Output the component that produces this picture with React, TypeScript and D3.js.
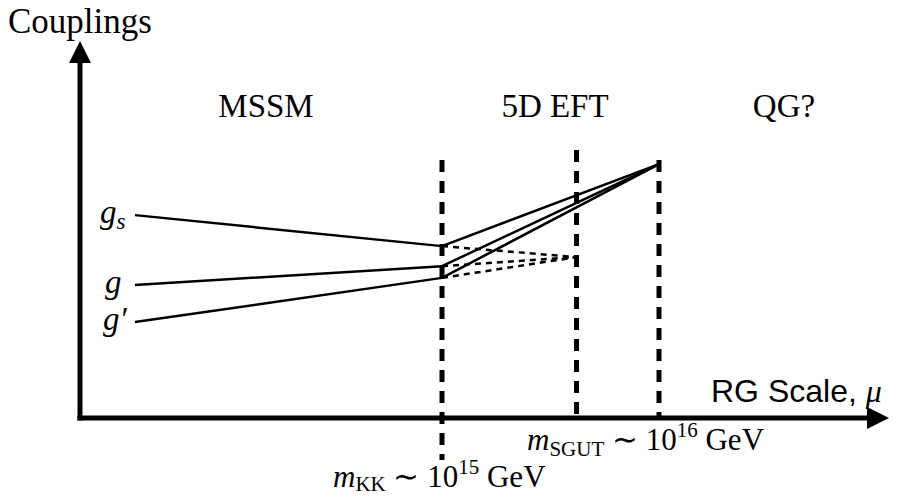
import React from 'react';
import * as d3 from 'd3';

// schematic running: x in log10(mu / GeV), y in arbitrary coupling units
const couplingNames = ['gs', 'g', 'gp'];
const muStart = 13.585;
const muKK = 15;
const muMid = 15.62;
const muGUT = 16;
const lowValues = [5.42, 3.57, 2.59];
const kkValues = [4.6, 4.07, 3.76];
const gutValue = 6.77;
const midValue = 4.31;

const W = 898;
const H = 497;

export default function App() {
  const x = d3.scaleLinear().domain([muKK, muGUT]).range([442, 659]);
  const y = d3.scaleLinear().domain([0, 10]).range([420, 42]);
  const line = d3.line<[number, number]>().x(d => x(d[0])).y(d => y(d[1]));

  const serif = '"Liberation Serif", "Times New Roman", serif';
  const sans = '"Liberation Sans", Arial, sans-serif';

  const axisY = 418;
  const axisX = 80;

  return (
    <svg width={W} height={H} style={{ position: 'absolute', left: 0, top: 0, background: '#fff' }}>
      {/* axes */}
      <line x1={axisX} x2={axisX} y1={axisY + 2.5} y2={60} stroke="#000" strokeWidth={5} />
      <path d={`M${axisX - 11},${63} L${axisX},${41} L${axisX + 11},${63} Z`} fill="#000" />
      <line x1={axisX - 2.5} x2={870} y1={axisY} y2={axisY} stroke="#000" strokeWidth={5} />
      <path d={`M${867},${axisY - 11} L${889},${axisY} L${867},${axisY + 11} Z`} fill="#000" />

      {/* threshold dashed lines */}
      <line x1={x(muKK)} x2={x(muKK)} y1={160} y2={460} stroke="#000" strokeWidth={5} strokeDasharray="12 9" />
      <line x1={x(muMid)} x2={x(muMid)} y1={150} y2={axisY} stroke="#000" strokeWidth={5} strokeDasharray="12 9" />
      <line x1={x(muGUT)} x2={x(muGUT)} y1={160} y2={axisY} stroke="#000" strokeWidth={5} strokeDasharray="12 9" />

      {/* running couplings */}
      {couplingNames.map((n, i) => (
        <g key={n}>
          <path
            d={line([[muStart, lowValues[i]], [muKK, kkValues[i]], [muGUT, gutValue]]) || ''}
            fill="none" stroke="#000" strokeWidth={2.5} strokeLinejoin="round"
          />
          <path
            d={line([[muKK, kkValues[i]], [muMid, midValue]]) || ''}
            fill="none" stroke="#000" strokeWidth={2.5} strokeDasharray="6 5"
          />
        </g>
      ))}

      {/* coupling labels */}
      <text x={100} y={y(lowValues[0]) + 8} fontFamily={serif} fontStyle="italic" fontSize={33}>
        g<tspan fontSize={23} dy={6}>s</tspan>
      </text>
      <text x={105} y={y(lowValues[1]) + 8} fontFamily={serif} fontStyle="italic" fontSize={33}>g</text>
      <text x={103} y={y(lowValues[2]) + 8} fontFamily={serif} fontStyle="italic" fontSize={33}>g′</text>

      {/* region labels */}
      <text x={8} y={33} fontFamily={serif} fontSize={35}>Couplings</text>
      <text x={266} y={117} textAnchor="middle" fontFamily={serif} fontSize={33}>MSSM</text>
      <text x={555} y={117} textAnchor="middle" fontFamily={serif} fontSize={33}>5D EFT</text>
      <text x={784} y={117} textAnchor="middle" fontFamily={serif} fontSize={33}>QG?</text>

      <text x={711} y={402} fontFamily={sans} fontSize={32}>
        RG Scale, <tspan fontFamily={serif} fontStyle="italic" fontSize={32}>μ</tspan>
      </text>

      <text x={527} y={450} fontFamily={serif} fontSize={31}>
        <tspan fontStyle="italic">m</tspan>
        <tspan fontSize={21} dy={6}>SGUT</tspan>
        <tspan dy={-6}> ∼ 10</tspan>
        <tspan fontSize={21} dy={-13}>16</tspan>
        <tspan dy={13}> GeV</tspan>
      </text>
      <text x={333} y={487} fontFamily={serif} fontSize={31}>
        <tspan fontStyle="italic">m</tspan>
        <tspan fontSize={21} dy={4}>KK</tspan>
        <tspan dy={-4}> ∼ 10</tspan>
        <tspan fontSize={21} dy={-13}>15</tspan>
        <tspan dy={13}> GeV</tspan>
      </text>
    </svg>
  );
}
